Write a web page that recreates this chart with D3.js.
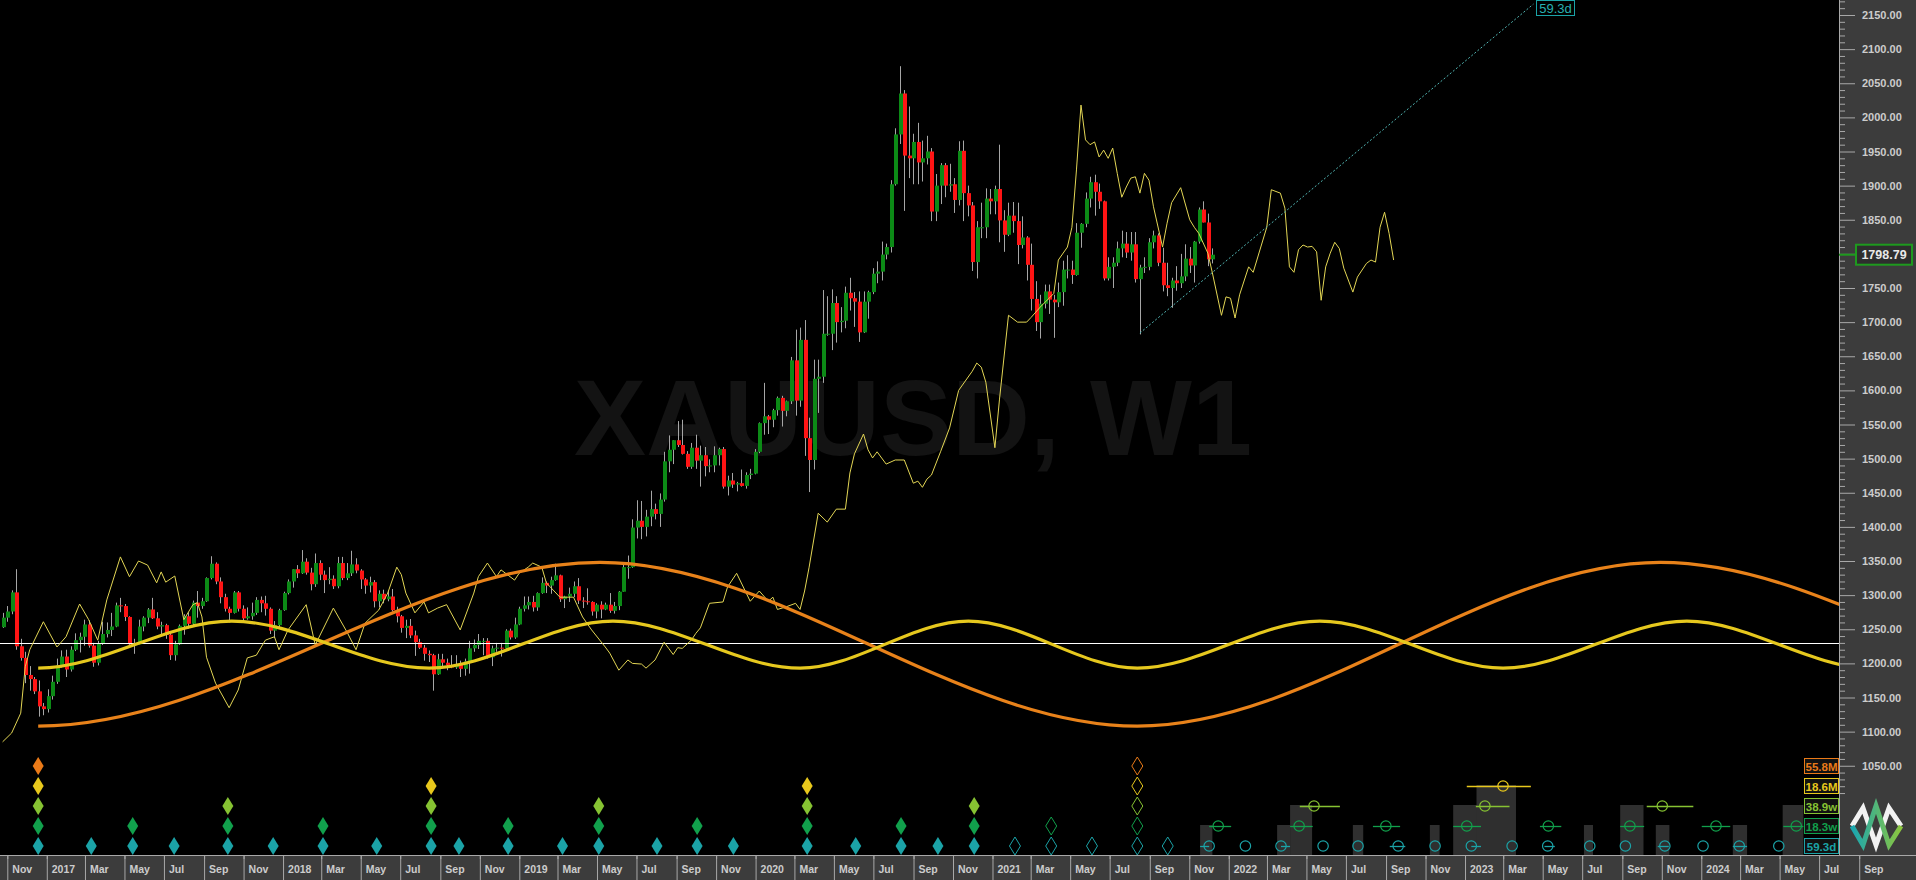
<!DOCTYPE html>
<html><head><meta charset="utf-8">
<script src="https://cdn.jsdelivr.net/npm/d3@7"></script>
<style>
body{margin:0;background:#000;overflow:hidden}
svg{display:block}
</style></head>
<body><svg id="c" width="1916" height="880"></svg>
<script>
// ---------------- DATA ----------------
const symbolTitle = "XAUUSD, W1";
const firstWeek = "2016-10-17";           // weekly bars, one per Monday
const lastPrice = 1798.79;
// [open, high, low, close] per weekly bar
const candles2016 = [[1253,1274,1252,1267],[1267,1284,1261,1276],[1276,1307,1272,1304],[1304,1338,1220,1225],[1225,1236,1204,1208],[1208,1217,1171,1183],[1183,1196,1160,1177],[1177,1180,1155,1159],[1159,1175,1122,1137],[1137,1142,1124,1133],[1133,1162,1128,1152]];
const candles2017 = [[1152,1182,1147,1173],[1173,1207,1170,1197],[1197,1219,1194,1210],[1210,1220,1180,1191],[1191,1225,1188,1220],[1220,1244,1218,1234],[1234,1245,1216,1239],[1239,1264,1226,1257],[1257,1263,1223,1226],[1226,1230,1195,1201],[1201,1233,1197,1229],[1229,1261,1227,1243],[1243,1260,1238,1249],[1249,1274,1240,1254],[1254,1289,1253,1285],[1285,1296,1275,1284],[1284,1287,1262,1268],[1268,1269,1226,1228],[1228,1236,1214,1228],[1228,1264,1228,1254],[1254,1269,1247,1267],[1267,1281,1259,1279],[1279,1296,1265,1266],[1266,1275,1250,1254],[1254,1261,1242,1256],[1256,1258,1236,1242],[1242,1245,1205,1212],[1212,1233,1204,1228],[1228,1257,1227,1255],[1255,1272,1242,1269],[1269,1275,1251,1258],[1258,1292,1255,1289],[1289,1306,1267,1284],[1284,1296,1280,1291],[1291,1326,1290,1325],[1325,1357,1323,1346],[1346,1348,1316,1320],[1320,1326,1288,1297],[1297,1302,1276,1280],[1280,1283,1260,1274],[1274,1306,1273,1304],[1304,1306,1276,1280],[1280,1285,1262,1266],[1266,1282,1264,1269],[1269,1289,1264,1274],[1274,1297,1271,1293],[1293,1298,1275,1288],[1288,1299,1270,1280],[1280,1282,1243,1248],[1248,1262,1237,1256],[1256,1280,1253,1278],[1278,1305,1277,1303]];
const candles2018 = [[1303,1323,1301,1320],[1320,1338,1311,1338],[1338,1344,1325,1332],[1332,1366,1331,1349],[1349,1354,1330,1333],[1333,1340,1307,1316],[1316,1361,1312,1347],[1347,1351,1322,1330],[1330,1336,1303,1322],[1322,1341,1316,1324],[1324,1329,1309,1313],[1313,1356,1310,1347],[1347,1356,1322,1325],[1325,1347,1322,1332],[1332,1365,1328,1345],[1345,1354,1332,1336],[1336,1338,1309,1323],[1323,1325,1302,1314],[1314,1327,1304,1319],[1319,1322,1282,1291],[1291,1307,1282,1302],[1302,1308,1288,1294],[1294,1307,1291,1298],[1298,1309,1276,1278],[1278,1283,1260,1269],[1269,1271,1245,1252],[1252,1264,1237,1255],[1255,1265,1237,1241],[1241,1248,1211,1231],[1231,1236,1221,1223],[1223,1227,1204,1214],[1214,1219,1202,1212],[1212,1214,1160,1184],[1184,1214,1183,1206],[1206,1214,1195,1201],[1201,1207,1190,1197],[1197,1212,1193,1194],[1194,1212,1192,1199],[1199,1204,1180,1192],[1192,1207,1182,1203],[1203,1233,1185,1222],[1222,1235,1217,1227],[1227,1243,1221,1233],[1233,1237,1212,1233],[1233,1237,1207,1209],[1209,1226,1196,1222],[1222,1230,1217,1223],[1223,1230,1210,1222],[1222,1250,1221,1248],[1248,1251,1235,1238],[1238,1267,1236,1257],[1257,1283,1256,1280]];
const candles2019 = [[1280,1298,1276,1285],[1285,1298,1279,1290],[1290,1299,1276,1282],[1282,1304,1277,1303],[1303,1326,1302,1318],[1318,1320,1303,1314],[1314,1327,1302,1322],[1322,1346,1321,1329],[1329,1330,1290,1294],[1294,1299,1281,1298],[1298,1311,1290,1302],[1302,1320,1297,1313],[1313,1325,1287,1292],[1292,1297,1281,1291],[1291,1310,1286,1290],[1290,1291,1270,1276],[1276,1288,1266,1286],[1286,1291,1266,1279],[1279,1289,1278,1286],[1286,1303,1274,1277],[1277,1290,1273,1284],[1284,1306,1278,1305],[1305,1348,1305,1341],[1341,1358,1324,1341],[1341,1411,1340,1399],[1399,1439,1383,1409],[1409,1438,1382,1400],[1400,1425,1386,1415],[1415,1453,1401,1426],[1426,1434,1411,1419],[1419,1449,1400,1440],[1440,1510,1437,1496],[1496,1534,1480,1513],[1513,1527,1492,1527],[1527,1555,1517,1520],[1520,1557,1506,1507],[1507,1511,1485,1488],[1488,1523,1485,1516],[1516,1535,1485,1497],[1497,1519,1459,1505],[1505,1517,1474,1489],[1489,1499,1480,1490],[1490,1518,1480,1505],[1505,1516,1490,1514],[1514,1517,1456,1459],[1459,1475,1446,1468],[1468,1479,1457,1462],[1462,1466,1452,1464],[1464,1484,1459,1460],[1460,1480,1456,1476],[1476,1485,1470,1478],[1478,1514,1477,1510]];
const candles2020 = [[1510,1553,1508,1552],[1552,1611,1535,1562],[1562,1564,1536,1557],[1557,1573,1546,1571],[1571,1591,1563,1589],[1589,1592,1547,1570],[1570,1585,1562,1584],[1584,1649,1580,1644],[1644,1689,1563,1585],[1585,1692,1576,1674],[1674,1703,1504,1530],[1530,1560,1451,1498],[1498,1645,1484,1617],[1617,1645,1567,1620],[1620,1747,1611,1683],[1683,1738,1680,1683],[1683,1748,1659,1728],[1728,1738,1670,1700],[1700,1722,1685,1702],[1702,1752,1691,1743],[1743,1765,1717,1735],[1735,1744,1693,1730],[1730,1745,1671,1685],[1685,1745,1684,1730],[1730,1746,1705,1744],[1744,1779,1741,1771],[1771,1789,1757,1774],[1774,1818,1761,1799],[1799,1815,1792,1810],[1810,1908,1802,1902],[1902,1984,1900,1975],[1975,2075,1961,2035],[2035,2040,1863,1944],[1944,2016,1911,1940],[1940,1976,1902,1964],[1964,1992,1902,1934],[1934,1966,1906,1940],[1940,1973,1931,1950],[1950,1955,1848,1862],[1862,1917,1848,1900],[1900,1933,1873,1930],[1930,1933,1883,1900],[1900,1932,1891,1902],[1902,1911,1860,1879],[1879,1965,1871,1951],[1951,1966,1848,1889],[1889,1900,1855,1871],[1871,1876,1775,1788],[1788,1848,1764,1839],[1839,1875,1823,1839],[1839,1896,1823,1881],[1881,1895,1858,1877],[1877,1900,1858,1895]];
const candles2021 = [[1895,1960,1817,1849],[1849,1864,1803,1828],[1828,1875,1826,1856],[1856,1876,1831,1848],[1848,1875,1785,1813],[1813,1855,1808,1824],[1824,1826,1761,1784],[1784,1815,1717,1734],[1734,1760,1687,1700],[1700,1740,1676,1727],[1727,1755,1720,1745],[1745,1755,1712,1733],[1733,1740,1677,1729],[1729,1758,1722,1744],[1744,1790,1724,1777],[1777,1798,1764,1777],[1777,1790,1756,1769],[1769,1845,1768,1831],[1831,1845,1809,1844],[1844,1890,1839,1881],[1881,1913,1868,1905],[1905,1916,1856,1891],[1891,1903,1866,1877],[1877,1878,1761,1764],[1764,1795,1761,1781],[1781,1795,1750,1787],[1787,1818,1782,1808],[1808,1834,1795,1815],[1815,1832,1794,1802],[1802,1832,1790,1814],[1814,1832,1758,1763],[1763,1784,1682,1780],[1780,1795,1772,1781],[1781,1823,1776,1817],[1817,1834,1808,1827],[1827,1830,1782,1787],[1787,1809,1745,1754],[1754,1787,1738,1750],[1750,1765,1721,1761],[1761,1782,1746,1757],[1757,1800,1750,1767],[1767,1814,1760,1793],[1793,1810,1772,1783],[1783,1819,1758,1818],[1818,1868,1815,1865],[1865,1877,1846,1846],[1846,1859,1782,1792],[1792,1808,1786,1798.79]];

// thin yellow projection line: [weeks after firstWeek, price]
const projA = [[0,1085],[2,1098],[4,1127],[5,1195],[6,1220],[9,1261],[12,1224],[14,1239],[17,1287],[19,1264],[21,1234],[23,1293],[26,1356],[28,1327],[30,1350],[32,1344],[34,1318],[35,1334],[36,1319],[38,1328],[40,1264],[42,1286],[43,1289],[44,1268],[45,1209],[47,1171],[50,1135],[52,1161],[54,1208],[56,1212],[58,1234],[60,1239],[61,1220],[63,1249],[67,1286],[69,1227],[73,1281],[76,1246],[78,1220],[80,1259],[83,1278],[85,1303],[87,1341],[88,1330]];
const projB = [[89,1303],[91,1274],[93,1290],[94,1274],[96,1281],[98,1286],[101,1249],[104,1303],[105,1327],[107,1347],[109,1327],[110,1337],[113,1322],[114,1332],[116,1341],[117,1347],[119,1341],[120,1318],[123,1297],[126,1297],[128,1268],[130,1249],[133,1224],[134,1215],[136,1190],[138,1205],[139,1200],[141,1199],[142,1193],[144,1205],[146,1231],[147,1222],[148,1213],[149,1223],[150,1222],[152,1234],[153,1244],[154,1252],[156,1288],[159,1290],[160,1312],[162,1332],[165,1291],[167,1306],[169,1291],[170,1297],[171,1279],[173,1283],[175,1288],[176,1279],[177,1306]];
const projC = [[178,1341],[180,1420],[182,1407],[184,1426],[186,1426],[187,1479],[188,1507],[190,1536],[191,1513],[192,1501],[193,1510],[195,1492],[197,1498],[199,1498],[201,1464],[202,1467],[203,1458],[204,1470],[205,1476],[207,1510],[209,1545],[211,1600],[214,1628],[215,1640],[216,1634],[217,1612],[219,1516],[220,1586],[222,1710],[224,1700],[226,1700],[227,1707],[229,1722],[232,1742],[233,1791],[235,1810],[236,1839],[237,1923],[238,2018],[239,1967],[240,1960],[241,1964],[242,1942],[243,1952],[244,1940],[245,1955],[246,1918],[247,1883],[248,1898],[249,1911],[250,1913],[251,1889],[252,1918],[253,1908],[254,1869]];
const projD = [[256,1810],[257,1845],[258,1875],[260,1897],[262,1850],[263,1839],[264,1830],[266,1801],[267,1772],[269,1710],[270,1737],[271,1735],[272,1706],[273,1740],[275,1781],[276,1773],[279,1839],[280,1894],[282,1889],[283,1867],[284,1781],[285,1773],[286,1806],[287,1813],[288,1810],[289,1811],[290,1803],[291,1732],[292,1781],[293,1801],[294,1817],[295,1808],[296,1779],[298,1744],[299,1766],[301,1786],[302,1791],[303,1788],[304,1839],[305,1861],[306,1830],[307,1791]];

// cycle waves: turning points (wave drawn from waveStart on)
const waveStart = "2016-12-11";
const cycle558Dates  = ["2014-08-31","2016-12-11","2019-04-28","2021-08-05","2023-10-22","2026-02-02","2028-05-15"];
const cycle558Values = [1348,1108,1348,1108,1348,1108,1348];
const cycle186Dates  = ["2016-02-14","2016-12-11","2017-10-06","2018-08-07","2019-05-18","2020-03-02","2020-11-17","2021-08-05","2022-05-14","2023-02-21","2023-12-02","2024-09-12","2025-06-01"];
const cycle186Values = [1262,1193,1262,1193,1262,1193,1262,1193,1262,1193,1262,1193,1262];
const baseLevel = 1230;
const trendLine = [["2021-08-09",1684],["2023-04-09",2166]];

// cycle labels, bottom row first
const cycleNames  = ["59.3d","18.3w","38.9w","18.6M","55.8M"];
const cycleColors = ["#1ba3a7","#11a04c","#86c232","#e8c81c","#ea7a18"];
// confirmed troughs (filled diamonds), per cycle row
const troughs = [
  ["2016-12-11","2017-03-03","2017-05-06","2017-07-09","2017-09-30","2017-12-09","2018-02-24","2018-05-18","2018-08-10","2018-09-22","2018-12-07","2019-03-01","2019-04-26","2019-07-25","2019-09-25","2019-11-20","2020-03-13","2020-05-27","2020-08-05","2020-10-01","2020-11-26"],
  ["2016-12-11","2017-05-06","2017-09-30","2018-02-24","2018-08-10","2018-12-07","2019-04-26","2019-09-25","2020-03-13","2020-08-05","2020-11-26"],
  ["2016-12-11","2017-09-30","2018-08-10","2019-04-26","2020-03-13","2020-11-26"],
  ["2016-12-11","2018-08-10","2020-03-13"],
  ["2016-12-11"]
];
// unconfirmed troughs (hollow diamonds)
const openTroughs = [
  ["2021-01-28","2021-03-25","2021-05-27","2021-08-05","2021-09-21"],
  ["2021-03-25","2021-08-05"],
  ["2021-08-05"],
  ["2021-08-05"],
  ["2021-08-05"]
];
// projected troughs: [from, centre, to]
const projTeal = [["2021-11-10","2021-11-24","2021-11-24"],["2022-01-19","2022-01-19","2022-01-19"],["2022-03-15","2022-03-15","2022-03-29"],["2022-05-19","2022-05-19","2022-05-19"],["2022-07-12","2022-07-12","2022-07-12"],["2022-08-30","2022-09-12","2022-09-23"],["2022-11-08","2022-11-08","2022-11-08"],["2023-01-03","2023-01-03","2023-01-18"],["2023-03-07","2023-03-07","2023-03-07"],["2023-04-26","2023-05-01","2023-05-12"],["2023-07-05","2023-07-05","2023-07-05"],["2023-08-29","2023-08-29","2023-08-29"],["2023-10-18","2023-10-29","2023-11-04"],["2023-12-27","2023-12-27","2023-12-27"],["2024-02-11","2024-02-21","2024-03-04"],["2024-04-22","2024-04-22","2024-04-22"]];
const projGreen = [["2021-11-24","2021-12-08","2021-12-28"],["2022-03-29","2022-04-12","2022-05-03"],["2022-08-04","2022-08-24","2022-09-15"],["2022-12-06","2022-12-27","2023-01-18"],["2023-04-19","2023-05-02","2023-05-22"],["2023-08-21","2023-09-05","2023-09-27"],["2023-12-25","2024-01-16","2024-02-07"],["2024-04-29","2024-05-19","2024-05-30"]];
const projLime = [["2022-04-13","2022-05-05","2022-06-14"],["2023-01-10","2023-01-24","2023-03-03"],["2023-10-01","2023-10-25","2023-12-12"]];
const projYellow = [["2022-12-27","2023-02-21","2023-04-05"]];
// shaded timing windows: [from, to, cycle row]
const windows = [["2021-11-10","2021-11-29",1],["2022-03-09","2022-03-29",1],["2022-03-29","2022-05-02",2],["2022-07-04","2022-07-20",1],["2022-10-31","2022-11-15",1],["2022-12-06","2023-01-17",2],["2023-01-11","2023-03-13",3],["2023-02-27","2023-03-13",1],["2023-06-26","2023-07-10",1],["2023-08-21","2023-09-26",2],["2023-10-15","2023-11-05",1],["2024-02-11","2024-03-04",1],["2024-04-28","2024-05-30",2]];
const priceTicks = [1050,1100,1150,1200,1250,1300,1350,1400,1450,1500,1550,1600,1650,1700,1750,1800,1850,1900,1950,2000,2050,2100,2150];

// ---------------- CHART ----------------
const FONT = "'Liberation Sans', Arial, sans-serif";
const svg = d3.select("#c");
const plotR = 1839, plotB = 855;
const panel = "#3c3c3c";
const x = d3.scaleUtc().domain([new Date("2016-10-13"), new Date("2024-09-30")]).range([0, 1883]);
const y = d3.scaleLinear().domain([1050, 2150]).range([765.75, 15]);
const D = s => new Date(s);
const weekDate = w => d3.utcDay.offset(D(firstWeek), 7 * w);

svg.append("rect").attr("width", 1916).attr("height", 880).attr("fill", "#000");
const defs = svg.append("defs");
defs.append("clipPath").attr("id", "plot")
  .append("rect").attr("x", 0).attr("y", 0).attr("width", plotR).attr("height", plotB);
defs.append("clipPath").attr("id", "waveclip")
  .append("rect").attr("x", x(D(waveStart))).attr("y", 0).attr("width", plotR - x(D(waveStart))).attr("height", plotB);
const g = svg.append("g").attr("clip-path", "url(#plot)");

// watermark
g.append("text").attr("x", 574).attr("y", 455).text(symbolTitle)
  .attr("font-family", FONT).attr("font-weight", "bold").attr("font-size", 108).attr("fill", "#131313");

// candles
const candles = [].concat(candles2016, candles2017, candles2018, candles2019, candles2020, candles2021)
  .map((d, i) => ({date: weekDate(i), o: d[0], h: d[1], l: d[2], c: d[3]}));
const cg = g.append("g");
candles.forEach(d => {
  const cx = Math.round(x(d.date));
  cg.append("line").attr("x1", cx + 0.5).attr("x2", cx + 0.5).attr("y1", y(d.h)).attr("y2", y(d.l))
    .attr("stroke", "#a6a6a6").attr("stroke-width", 1);
  const top = y(Math.max(d.o, d.c)), bot = y(Math.min(d.o, d.c));
  cg.append("rect").attr("x", cx - 1).attr("width", 4).attr("y", top).attr("height", Math.max(1, bot - top))
    .attr("fill", d.c >= d.o ? "#0c8a16" : "#ff1414");
});

// base line
g.append("line").attr("x1", 0).attr("x2", plotR).attr("y1", Math.round(y(baseLevel)) + 0.5).attr("y2", Math.round(y(baseLevel)) + 0.5)
  .attr("stroke", "#ffffff").attr("stroke-width", 1);

// thin projection line
const proj = [].concat(projA, projB, projC, projD);
g.append("path").datum(proj)
  .attr("d", d3.line().x(d => x(weekDate(d[0]))).y(d => y(d[1])))
  .attr("fill", "none").attr("stroke", "#e3d655").attr("stroke-width", 1);

// cycle waves
const wave = d3.line().curve(d3.curveMonotoneX).x(d => x(D(d[0]))).y(d => y(d[1]));
const wg = g.append("g").attr("clip-path", "url(#waveclip)");
wg.append("path").datum(cycle558Dates.map((d, i) => [d, cycle558Values[i]]))
  .attr("d", wave).attr("fill", "none").attr("stroke", "#e8821a").attr("stroke-width", 3.2);
wg.append("path").datum(cycle186Dates.map((d, i) => [d, cycle186Values[i]]))
  .attr("d", wave).attr("fill", "none").attr("stroke", "#e6c81e").attr("stroke-width", 3.2);

// trend line
g.append("line")
  .attr("x1", x(D(trendLine[0][0]))).attr("y1", y(trendLine[0][1]))
  .attr("x2", x(D(trendLine[1][0]))).attr("y2", y(trendLine[1][1]))
  .attr("stroke", "#52b6b4").attr("stroke-width", 1).attr("stroke-dasharray", "2,2");
const tl = svg.append("g");
tl.append("rect").attr("x", 1536.5).attr("y", 0.5).attr("width", 38).attr("height", 15)
  .attr("fill", "#000").attr("stroke", "#1ba3a7");
tl.append("text").attr("x", 1555.5).attr("y", 12.5).attr("text-anchor", "middle").text(cycleNames[0])
  .attr("font-family", FONT).attr("font-size", 13).attr("fill", "#27b0b0");

// ---------- cycle panel ----------
const rowY = [846, 826, 806, 786, 766];
const lp = svg.append("g");
windows.forEach(w => {
  const x0 = x(D(w[0])), x1 = x(D(w[1]));
  lp.append("rect").attr("x", x0).attr("width", x1 - x0).attr("y", rowY[w[2]] - 1).attr("height", plotB - rowY[w[2]] + 1)
    .attr("fill", "#2f2f2f");
});
const diamond = "M0,-9L5.5,0L0,9L-5.5,0Z";
troughs.forEach((list, r) => list.forEach(d => {
  lp.append("path").attr("d", diamond).attr("transform", `translate(${x(D(d))},${rowY[r]})`)
    .attr("fill", cycleColors[r]);
}));
openTroughs.forEach((list, r) => list.forEach(d => {
  lp.append("path").attr("d", diamond).attr("transform", `translate(${x(D(d))},${rowY[r]})`)
    .attr("fill", "none").attr("stroke", cycleColors[r]).attr("stroke-width", 1);
}));
[projTeal, projGreen, projLime, projYellow].forEach((list, r) => list.forEach(p => {
  const a = x(D(p[0])), c = x(D(p[1])), b = x(D(p[2]));
  if (b - a > 1) lp.append("line").attr("x1", a).attr("x2", b).attr("y1", rowY[r] + 0.5).attr("y2", rowY[r] + 0.5)
    .attr("stroke", cycleColors[r]).attr("stroke-width", 1.3);
  lp.append("circle").attr("cx", c).attr("cy", rowY[r]).attr("r", 5.2)
    .attr("fill", "none").attr("stroke", cycleColors[r]).attr("stroke-width", 1.2);
}));
cycleNames.forEach((n, r) => {
  lp.append("rect").attr("x", 1804.5).attr("y", rowY[r] - 7.5).attr("width", 34).attr("height", 15)
    .attr("fill", "#121212").attr("stroke", cycleColors[r]).attr("stroke-width", 1);
  lp.append("text").attr("x", 1821.5).attr("y", rowY[r] + 4.5).attr("text-anchor", "middle").text(n)
    .attr("font-family", FONT).attr("font-weight", "bold").attr("font-size", 11.5).attr("fill", cycleColors[r]);
});

// ---------- price axis ----------
svg.append("rect").attr("x", plotR).attr("y", 0).attr("width", 1916 - plotR).attr("height", plotB).attr("fill", panel);
const minor = d3.range(1000, 2180, 10).filter(v => v % 50 !== 0);
const ax1 = svg.append("g").attr("transform", `translate(${plotR},0)`)
  .call(d3.axisRight(y).tickValues(minor).tickSize(6).tickFormat(""));
const ax2 = svg.append("g").attr("transform", `translate(${plotR},0)`)
  .call(d3.axisRight(y).tickValues(priceTicks).tickSize(16).tickPadding(7).tickFormat(d3.format(".2f")));
[ax1, ax2].forEach(a => { a.select(".domain").remove(); a.selectAll("line").attr("stroke", "#a8a8a8"); });
ax2.selectAll("text").attr("fill", "#cccccc").attr("font-family", FONT).attr("font-weight", "bold").attr("font-size", 11);
// the level hidden behind the current-price box
ax2.selectAll(".tick").filter(v => Math.abs(y(v) - y(lastPrice)) < 12).select("text").remove();
svg.append("line").attr("x1", plotR + 0.5).attr("x2", plotR + 0.5).attr("y1", 0).attr("y2", plotB).attr("stroke", "#a8a8a8");

// current price marker
const py = y(lastPrice);
svg.append("line").attr("x1", plotR).attr("x2", 1856).attr("y1", py).attr("y2", py).attr("stroke", "#1e9a1e").attr("stroke-width", 2);
svg.append("rect").attr("x", 1856).attr("y", py - 10).attr("width", 56).attr("height", 20)
  .attr("fill", "#2e2e2e").attr("stroke", "#1e9a1e").attr("stroke-width", 2);
svg.append("text").attr("x", 1884).attr("y", py + 4.5).attr("text-anchor", "middle").text(d3.format(".2f")(lastPrice))
  .attr("font-family", FONT).attr("font-weight", "bold").attr("font-size", 12.5).attr("fill", "#e8e8e8");

// ---------- time axis ----------
svg.append("rect").attr("x", 0).attr("y", plotB).attr("width", 1916).attr("height", 880 - plotB).attr("fill", panel);
svg.append("line").attr("x1", 0).attr("x2", 1916).attr("y1", plotB + 0.5).attr("y2", plotB + 0.5).attr("stroke", "#a8a8a8");
const majors = d3.utcMonths(D("2016-11-01"), D("2024-10-02"), 2);
const minors = d3.utcMonths(D("2016-10-01"), D("2024-10-02")).filter(m => m.getUTCMonth() % 2 === 0);
const fmt = d => d.getUTCMonth() === 0 ? d3.utcFormat("%Y")(d) : d3.utcFormat("%b")(d);
const tx1 = svg.append("g").attr("transform", `translate(-5,${plotB})`)
  .call(d3.axisBottom(x).tickValues(minors).tickSize(4).tickFormat(""));
const tx2 = svg.append("g").attr("transform", `translate(-5,${plotB})`)
  .call(d3.axisBottom(x).tickValues(majors).tickSize(25).tickFormat(fmt));
[tx1, tx2].forEach(a => { a.select(".domain").remove(); a.selectAll("line").attr("stroke", "#a8a8a8"); });
tx2.selectAll("text").attr("x", 4.5).attr("y", 10.5).attr("text-anchor", "start")
  .attr("fill", "#cccccc").attr("font-family", FONT).attr("font-weight", "bold").attr("font-size", 10.5);

// ---------- logo ----------
const grad = defs.append("linearGradient").attr("id", "lg").attr("x1", "0").attr("x2", "1").attr("y1", "0").attr("y2", "0");
grad.append("stop").attr("offset", "0").attr("stop-color", "#1aa6b0");
grad.append("stop").attr("offset", "1").attr("stop-color", "#8cc63e");
const logo = svg.append("g");
logo.append("path").attr("d", "M1852,826L1863,808L1876,845L1889,808L1901,826")
  .attr("fill", "none").attr("stroke", "#f2f2f2").attr("stroke-width", 5).attr("stroke-linejoin", "miter");
logo.append("path").attr("d", "M1852,826L1863,845L1876,806L1889,845L1901,826")
  .attr("fill", "none").attr("stroke", "url(#lg)").attr("stroke-width", 5).attr("stroke-linejoin", "miter");
</script>
</body></html>
